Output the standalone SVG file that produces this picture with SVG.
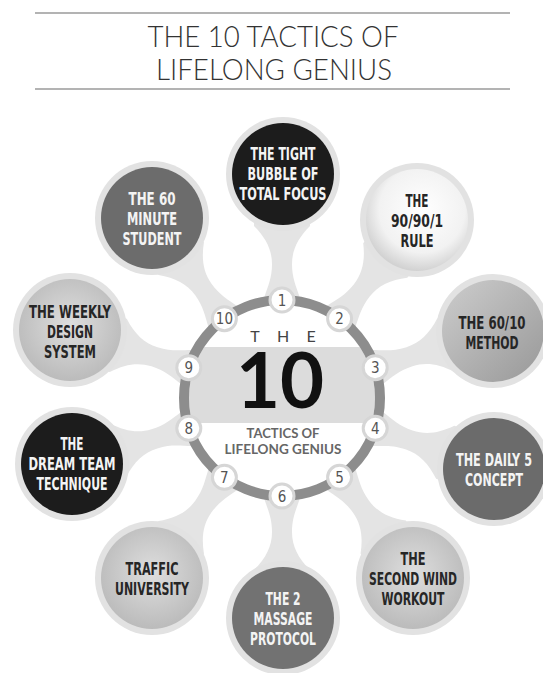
<svg xmlns="http://www.w3.org/2000/svg" xmlns:xlink="http://www.w3.org/1999/xlink" width="543" height="673" viewBox="0 0 543 673">
<style>
.title{font-family:Lato,"Open Sans",sans-serif;font-weight:300;font-size:29px;fill:#333;text-anchor:middle}
.rule{stroke:#b3b3b3;stroke-width:2}
.halo{fill:#e2e2e2}
.stem{fill:#e4e4e4}
.lbl{font-family:"DejaVu Sans Condensed","DejaVu Sans",sans-serif;font-weight:bold;font-size:18px;text-anchor:middle}
.lt{fill:#f4f4f4}
.dk{fill:#262626}
.badge{fill:#fff;stroke:#d6d6d6;stroke-width:3}
.num{font-family:"DejaVu Sans Condensed","DejaVu Sans",sans-serif;font-size:15px;fill:#555;text-anchor:middle}
.hub1{font-family:Lato,sans-serif;font-size:16px;fill:#444;text-anchor:middle}
.hub2{font-family:Lato,sans-serif;font-weight:bold;font-size:76px;fill:#111;text-anchor:middle}
.hub3{font-family:Lato,sans-serif;font-weight:bold;font-size:13px;fill:#666;text-anchor:middle}
</style>
<defs>
<path id="stemShape" d="M2,-18 C14,-14 22,-10 36,-10 C50,-10 62,-16 74,-28 L95,-28 L95,28 L74,28 C62,16 50,10 36,10 C22,10 14,14 2,18 Z"/>
<radialGradient id="gWhite" cx="0.55" cy="0.4" r="0.6"><stop offset="0" stop-color="#ffffff"/><stop offset="0.7" stop-color="#f2f2f2"/><stop offset="1" stop-color="#d2d2d2"/></radialGradient>
<linearGradient id="gMid" x1="0" y1="0" x2="1" y2="1"><stop offset="0" stop-color="#cdcdcd"/><stop offset="1" stop-color="#989898"/></linearGradient>
<radialGradient id="gLight" cx="0.5" cy="0.45" r="0.6"><stop offset="0" stop-color="#dedede"/><stop offset="1" stop-color="#b8b8b8"/></radialGradient>
<clipPath id="innerClip"><circle cx="282" cy="398" r="93"/></clipPath>
</defs>
<rect width="543" height="673" fill="#fff"/>
<g id="title">
<line class="rule" x1="35" y1="13" x2="510" y2="13"/>
<text class="title" x="273" y="47" textLength="251" lengthAdjust="spacingAndGlyphs">THE 10 TACTICS OF</text>
<text class="title" x="274" y="80" textLength="236" lengthAdjust="spacingAndGlyphs">LIFELONG GENIUS</text>
<line class="rule" x1="35" y1="89" x2="510" y2="89"/>
</g>
<g id="connectors">
<use class="stem" xlink:href="#stemShape" transform="translate(282 300) rotate(-90)"/>
<use class="stem" xlink:href="#stemShape" transform="translate(339.6 318.7) rotate(-51.9)"/>
<use class="stem" xlink:href="#stemShape" transform="translate(375.2 367.7) rotate(-17.7)"/>
<use class="stem" xlink:href="#stemShape" transform="translate(375.2 428.3) rotate(18.9)"/>
<use class="stem" xlink:href="#stemShape" transform="translate(339.6 477.3) rotate(53.9)"/>
<use class="stem" xlink:href="#stemShape" transform="translate(282 496) rotate(90)"/>
<use class="stem" xlink:href="#stemShape" transform="translate(224.4 477.3) rotate(125.7)"/>
<use class="stem" xlink:href="#stemShape" transform="translate(188.8 428.3) rotate(163)"/>
<use class="stem" xlink:href="#stemShape" transform="translate(188.8 367.7) rotate(197.6)"/>
<use class="stem" xlink:href="#stemShape" transform="translate(224.4 318.7) rotate(234.3)"/>
</g>
<g id="hub">
<circle cx="282" cy="398" r="93" fill="#fff"/>
<rect x="180" y="347" width="204" height="76" fill="#dcdcdc" clip-path="url(#innerClip)"/>
<circle cx="282" cy="398" r="98" fill="none" stroke="#8d8d8d" stroke-width="10"/>
<text class="hub1" x="255 283 311" y="342">THE</text>
<text class="hub2" x="280" y="408">10</text>
<text class="hub3" x="283" y="438" textLength="73" lengthAdjust="spacingAndGlyphs">TACTICS OF</text>
<text class="hub3" x="283" y="454" textLength="117" lengthAdjust="spacingAndGlyphs">LIFELONG GENIUS</text>
<g id="badges">
<circle class="badge" cx="282" cy="300" r="12"/><text class="num" x="282" y="305.5">1</text>
<circle class="badge" cx="339.6" cy="318.7" r="12"/><text class="num" x="339.6" y="324.2">2</text>
<circle class="badge" cx="375.2" cy="367.7" r="12"/><text class="num" x="375.2" y="373.2">3</text>
<circle class="badge" cx="375.2" cy="428.3" r="12"/><text class="num" x="375.2" y="433.8">4</text>
<circle class="badge" cx="339.6" cy="477.3" r="12"/><text class="num" x="339.6" y="482.8">5</text>
<circle class="badge" cx="282" cy="496" r="12"/><text class="num" x="282" y="501.5">6</text>
<circle class="badge" cx="224.4" cy="477.3" r="12"/><text class="num" x="224.4" y="482.8">7</text>
<circle class="badge" cx="188.8" cy="428.3" r="12"/><text class="num" x="188.8" y="433.8">8</text>
<circle class="badge" cx="188.8" cy="367.7" r="12"/><text class="num" x="188.8" y="373.2">9</text>
<circle class="badge" cx="224.4" cy="318.7" r="12"/><text class="num" x="224.4" y="324.2">10</text>
</g>
</g>
<g id="node1">
<circle class="halo" cx="283" cy="174" r="57"/><circle cx="283" cy="174" r="51" fill="#1c1c1c"/>
<text class="lbl lt" x="283" y="160" textLength="65" lengthAdjust="spacingAndGlyphs">THE TIGHT</text>
<text class="lbl lt" x="283" y="180" textLength="71" lengthAdjust="spacingAndGlyphs">BUBBLE OF</text>
<text class="lbl lt" x="283" y="200" textLength="87" lengthAdjust="spacingAndGlyphs">TOTAL FOCUS</text>
</g>
<g id="node2">
<circle class="halo" cx="417" cy="220" r="57"/><circle cx="417" cy="220" r="51" fill="url(#gWhite)"/>
<text class="lbl dk" x="417" y="207" textLength="23" lengthAdjust="spacingAndGlyphs">THE</text>
<text class="lbl dk" x="417" y="227" textLength="52" lengthAdjust="spacingAndGlyphs">90/90/1</text>
<text class="lbl dk" x="417" y="247" textLength="33" lengthAdjust="spacingAndGlyphs">RULE</text>
</g>
<g id="node3">
<circle class="halo" cx="493" cy="331" r="57"/><circle cx="493" cy="331" r="51" fill="url(#gMid)"/>
<text class="lbl dk" x="492" y="329" textLength="67" lengthAdjust="spacingAndGlyphs">THE 60/10</text>
<text class="lbl dk" x="492" y="349" textLength="53" lengthAdjust="spacingAndGlyphs">METHOD</text>
</g>
<g id="node4">
<circle class="halo" cx="494" cy="469" r="57"/><circle cx="494" cy="469" r="51" fill="#6b6b6b"/>
<text class="lbl lt" x="494" y="466" textLength="76" lengthAdjust="spacingAndGlyphs">THE DAILY 5</text>
<text class="lbl lt" x="494" y="486" textLength="58" lengthAdjust="spacingAndGlyphs">CONCEPT</text>
</g>
<g id="node5">
<circle class="halo" cx="413" cy="578" r="57"/><circle cx="413" cy="578" r="51" fill="url(#gLight)"/>
<text class="lbl dk" x="413" y="565" textLength="25" lengthAdjust="spacingAndGlyphs">THE</text>
<text class="lbl dk" x="413" y="585" textLength="88" lengthAdjust="spacingAndGlyphs">SECOND WIND</text>
<text class="lbl dk" x="413" y="605" textLength="63" lengthAdjust="spacingAndGlyphs">WORKOUT</text>
</g>
<g id="node6">
<circle class="halo" cx="283" cy="618" r="57"/><circle cx="283" cy="618" r="51" fill="#727272"/>
<text class="lbl lt" x="283" y="605" textLength="35" lengthAdjust="spacingAndGlyphs">THE 2</text>
<text class="lbl lt" x="283" y="625" textLength="59" lengthAdjust="spacingAndGlyphs">MASSAGE</text>
<text class="lbl lt" x="283" y="645" textLength="66" lengthAdjust="spacingAndGlyphs">PROTOCOL</text>
</g>
<g id="node7">
<circle class="halo" cx="152" cy="578" r="57"/><circle cx="152" cy="578" r="51" fill="url(#gLight)"/>
<text class="lbl dk" x="152" y="575" textLength="53" lengthAdjust="spacingAndGlyphs">TRAFFIC</text>
<text class="lbl dk" x="152" y="595" textLength="74" lengthAdjust="spacingAndGlyphs">UNIVERSITY</text>
</g>
<g id="node8">
<circle class="halo" cx="72" cy="464" r="57"/><circle cx="72" cy="464" r="51" fill="#1c1c1c"/>
<text class="lbl lt" x="72" y="450" textLength="23" lengthAdjust="spacingAndGlyphs">THE</text>
<text class="lbl lt" x="72" y="470" textLength="87" lengthAdjust="spacingAndGlyphs">DREAM TEAM</text>
<text class="lbl lt" x="72" y="490" textLength="71" lengthAdjust="spacingAndGlyphs">TECHNIQUE</text>
</g>
<g id="node9">
<circle class="halo" cx="70" cy="330" r="57"/><circle cx="70" cy="330" r="51" fill="url(#gLight)"/>
<text class="lbl dk" x="70" y="318" textLength="82" lengthAdjust="spacingAndGlyphs">THE WEEKLY</text>
<text class="lbl dk" x="70" y="338" textLength="46" lengthAdjust="spacingAndGlyphs">DESIGN</text>
<text class="lbl dk" x="70" y="358" textLength="52" lengthAdjust="spacingAndGlyphs">SYSTEM</text>
</g>
<g id="node10">
<circle class="halo" cx="152" cy="218" r="57"/><circle cx="152" cy="218" r="51" fill="#6c6c6c"/>
<text class="lbl lt" x="152" y="205" textLength="47" lengthAdjust="spacingAndGlyphs">THE 60</text>
<text class="lbl lt" x="152" y="225" textLength="50" lengthAdjust="spacingAndGlyphs">MINUTE</text>
<text class="lbl lt" x="152" y="245" textLength="59" lengthAdjust="spacingAndGlyphs">STUDENT</text>
</g>
</svg>
